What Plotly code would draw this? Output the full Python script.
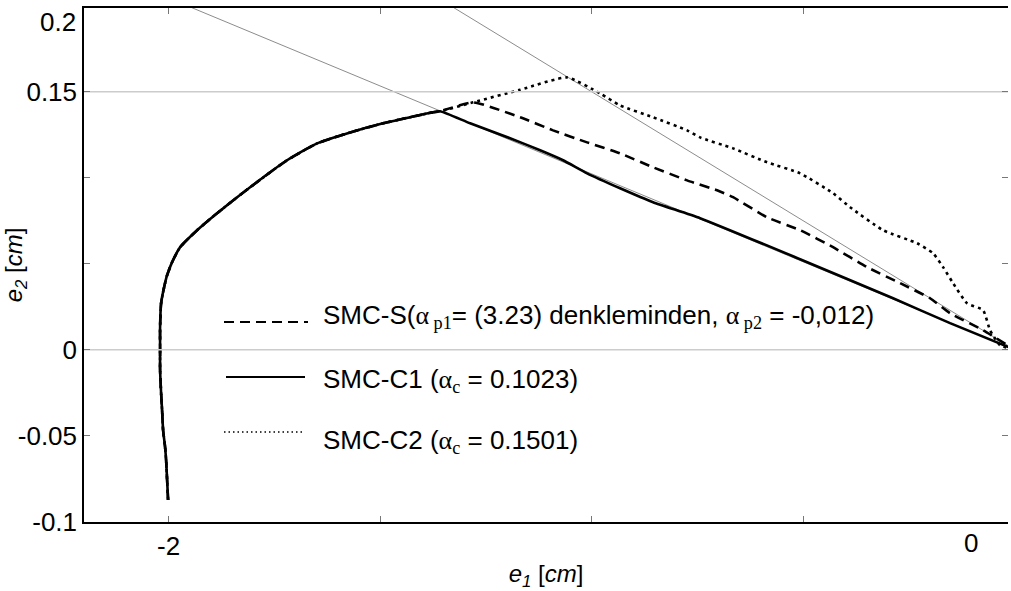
import plotly.graph_objects as go

# ---------------- data ----------------
# common start of all three trajectories
common_x = [-2.0012, -2.0035, -2.0059, -2.0083, -2.0130, -2.0154, -2.0177, -2.0201, -2.0201,
            -2.0201, -2.0177, -2.0106, -2.0035, -1.9917, -1.9728, -1.9326, -1.8853, -1.8073,
            -1.7199, -1.6489, -1.5709, -1.4929, -1.3747, -1.3582]
common_y = [-0.0875, -0.0759, -0.0642, -0.0567, -0.0468, -0.0352, -0.0253, -0.0119, -0.0003,
            0.0131, 0.0270, 0.0363, 0.0433, 0.0509, 0.0596, 0.0695, 0.0794, 0.0945,
            0.1102, 0.1200, 0.1264, 0.1317, 0.1381, 0.1387]

# SMC-C1 (solid) after leaving the common part
c1_x = [-1.2872, -1.1927, -1.1217, -1.0674, -1.0106, -0.9326, -0.8546, -0.7435, -0.5071,
        -0.2872, -0.1525, 0.0]
c1_y = [0.1317, 0.1230, 0.1160, 0.1102, 0.1026, 0.0939, 0.0858, 0.0765, 0.0526,
        0.0299, 0.0154, 0.0]

# SMC-S (dashed)
s_x = [-1.2801, -1.1690, -1.0910, -1.0106, -0.9326, -0.8546, -0.7742, -0.7033, -0.6655,
       -0.5851, -0.5071, -0.4291, -0.3487, -0.2707, -0.1998, -0.1525, -0.0745, 0.0]
s_y = [0.1439, 0.1352, 0.1276, 0.1206, 0.1142, 0.1061, 0.0985, 0.0927, 0.0887,
       0.0770, 0.0695, 0.0596, 0.0480, 0.0387, 0.0299, 0.0212, 0.0113, 0.0]

# SMC-C2 (dotted)
c2_x = [-1.2801, -1.1690, -1.0579, -0.9799, -0.9326, -0.8546, -0.7742, -0.7435, -0.6655,
        -0.5851, -0.5071, -0.4291, -0.3889, -0.3109, -0.2305, -0.1927, -0.1690, -0.1454,
        -0.1123, -0.0745, -0.0579, -0.0343, 0.0]
c2_y = [0.1439, 0.1512, 0.1584, 0.1491, 0.1421, 0.1352, 0.1276, 0.1235, 0.1171,
        0.1090, 0.1026, 0.0910, 0.0829, 0.0695, 0.0619, 0.0561, 0.0480, 0.0387,
        0.0270, 0.0230, 0.0113, 0.0026, 0.0]

# sliding lines e2 = -alpha_c * e1
alpha_c = [0.1023, 0.1501]
line_x = [-2.2, 0.0]

# horizontal reference lines
ref_levels = [0.15, 0.0]

# ticks
x_tickvals = [-2.0]
x_ticktext = ["-2"]
x_minor_ticks = [-1.5, -1.0, -0.5]
x_zero_label_pos = -0.1028
y_tickvals = [-0.1, -0.05, 0.0, 0.15]
y_ticktext = ["-0.1", "-0.05", "0", "0.15"]
y_minor_ticks = [0.05, 0.1]
y_all_ticks = [-0.1, -0.05, 0.0, 0.05, 0.1, 0.15]
y_top_label = "0.2"

X_RANGE = [-2.2, -0.0155]
Y_RANGE = [-0.1003, 0.1988]

FONT = "Liberation Sans, Arial, sans-serif"
FS = 26

fig = go.Figure()

# reference lines
for lv in ref_levels:
    fig.add_trace(go.Scatter(x=X_RANGE, y=[lv, lv], mode="lines",
                             line=dict(color="#cccccc", width=1.5),
                             hoverinfo="skip", showlegend=False, yaxis="y2"))
# sliding lines
for a in alpha_c:
    fig.add_trace(go.Scatter(x=line_x, y=[-a * v for v in line_x], mode="lines",
                             line=dict(color="#8c8c8c", width=1),
                             hoverinfo="skip", showlegend=False))

fig.add_trace(go.Scatter(x=common_x + c2_x, y=common_y + c2_y, mode="lines",
                         line=dict(color="black", width=2.6, dash="3px,4px",
                                   shape="spline", smoothing=0.5),
                         name="SMC-C2", showlegend=False))
fig.add_trace(go.Scatter(x=common_x + s_x, y=common_y + s_y, mode="lines",
                         line=dict(color="black", width=2.6, dash="10px,6px",
                                   shape="spline", smoothing=0.5),
                         name="SMC-S", showlegend=False))
fig.add_trace(go.Scatter(x=common_x + c1_x, y=common_y + c1_y, mode="lines",
                         line=dict(color="black", width=2.6, shape="spline", smoothing=0.5),
                         name="SMC-C1", showlegend=False))

# ---------------- manual legend ----------------
W, H = 1011, 591
ML, MR, MT, MB = 84, 3, 8, 69
PW, PH = W - ML - MR, H - MT - MB


def px(xp):
    return (xp - ML) / PW


def py(yp):
    return (H - MB - yp) / PH


leg_lines = [(224, 308, 322, "10px,6px", 2.2),
             (226, 305, 377, "solid", 2.2),
             (224, 305, 432, "1.5px,3px", 1.6)]
for x0, x1, yy, d, w in leg_lines:
    fig.add_shape(type="line", xref="paper", yref="paper",
                  x0=px(x0), x1=px(x1), y0=py(yy), y1=py(yy),
                  line=dict(color="black", width=w, dash=d))

a_span = '<span style="font-family:Liberation Serif">α</span>'
leg_texts = [
    ("SMC-S(" + a_span + '<sub><span style="font-family:Liberation Serif"> p1</span></sub>'
     "= (3.23) denkleminden, " + a_span +
     '<sub><span style="font-family:Liberation Serif"> p2</span></sub> = -0,012)', 316),
    ("SMC-C1 (" + a_span + '<sub><span style="font-family:Liberation Serif">c</span></sub> = 0.1023)', 380),
    ("SMC-C2 (" + a_span + '<sub><span style="font-family:Liberation Serif">c</span></sub> = 0.1501)', 441),
]
for txt, yy in leg_texts:
    fig.add_annotation(text=txt, xref="paper", yref="paper", x=px(321), y=py(yy),
                       xanchor="left", yanchor="middle", showarrow=False,
                       font=dict(family=FONT, size=FS, color="black"))

# "0" label on the x axis, "0.2" label on the y axis
fig.add_annotation(text="0", xref="x", yref="paper", x=x_zero_label_pos, y=py(543),
                   xanchor="center", yanchor="middle", showarrow=False,
                   font=dict(family=FONT, size=FS, color="black"))
fig.add_annotation(text=y_top_label, xref="paper", yref="paper", x=px(78), y=py(22),
                   xanchor="right", yanchor="middle", showarrow=False,
                   font=dict(family=FONT, size=FS, color="black"))

tick_common = dict(ticks="inside", ticklen=6, tickcolor="#777777", tickwidth=1)

fig.update_layout(
    width=W, height=H,
    margin=dict(l=ML, r=MR, t=MT, b=MB, pad=0),
    paper_bgcolor="white", plot_bgcolor="white",
    font=dict(family=FONT, size=FS, color="black"),
    showlegend=False,
    xaxis=dict(range=X_RANGE, tickvals=x_tickvals, ticktext=x_ticktext, **tick_common,
               minor=dict(tickvals=x_minor_ticks, **tick_common),
               showline=True, linecolor="black", linewidth=1.5, mirror="ticks",
               showgrid=False, zeroline=False,
               tickfont=dict(family=FONT, size=FS, color="black"),
               title=dict(text="<i>e</i><sub><i>1</i></sub> [<i>cm</i>]",
                          font=dict(family=FONT, size=FS - 2, color="black"), standoff=10),
               automargin=False),
    yaxis=dict(range=Y_RANGE, tickvals=y_tickvals, ticktext=y_ticktext, **tick_common,
               minor=dict(tickvals=y_minor_ticks, **tick_common),
               showline=True, linecolor="black", linewidth=1.5, mirror=False,
               showgrid=False, zeroline=False,
               tickfont=dict(family=FONT, size=FS, color="black"),
               title=dict(text="<i>e</i><sub><i>2</i></sub> [<i>cm</i>]",
                          font=dict(family=FONT, size=FS - 2, color="black"), standoff=2),
               automargin=False),
    yaxis2=dict(range=Y_RANGE, overlaying="y", side="right", tickvals=y_all_ticks,
                showticklabels=False, **tick_common, showline=False, showgrid=False,
                zeroline=False),
)

fig.write_html("out.html", config={"displayModeBar": False},
               post_script="document.body.style.margin='0px';")
